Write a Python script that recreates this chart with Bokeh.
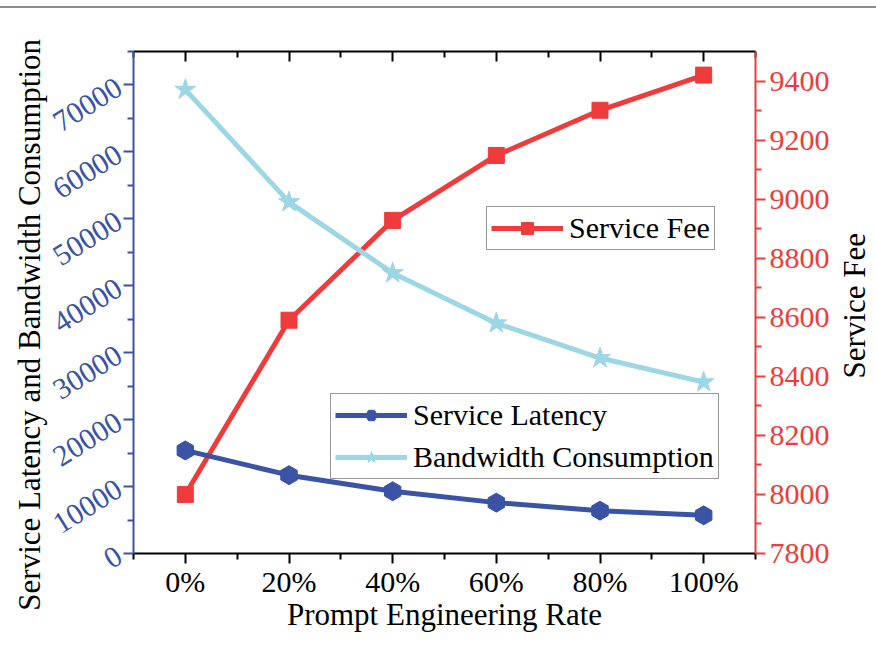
import numpy as np
from bokeh.plotting import figure
from bokeh.models import (Range1d, LinearAxis, FixedTicker, Legend, LegendItem, Div)
from bokeh.layouts import column, row
from bokeh.embed import file_html
from bokeh.resources import INLINE

# ---- data ----
rates = [0, 20, 40, 60, 80, 100]
rate_labels = ["0%", "20%", "40%", "60%", "80%", "100%"]
service_latency = [15400, 11700, 9300, 7600, 6400, 5700]
bandwidth = [69300, 52500, 41900, 34400, 29200, 25600]
service_fee = [8000, 8590, 8928, 9148, 9301, 9420]

left_ticks = [0, 10000, 20000, 30000, 40000, 50000, 60000, 70000]
right_ticks = [7800, 8000, 8200, 8400, 8600, 8800, 9000, 9200, 9400]

x_title = "Prompt Engineering Rate"
left_title = "Service Latency and Bandwidth Consumption"
right_title = "Service Fee"

RED = "#EE3B3B"
BLUE = "#3A53A4"
LIGHT = "#9DD6E4"
FONT = "Liberation Serif"
FS = "30px"
TFS = "31px"

top_rule = Div(text="", width=876, height=8,
               styles={"border-bottom": "2px solid #8c8c8c", "box-sizing": "border-box",
                       "margin": "0", "padding": "0"})

p = figure(width=800, height=637, output_backend="svg", toolbar_location=None,
           x_range=Range1d(-10, 110), y_range=Range1d(0, 75000),
           min_border_left=95, min_border_right=83, min_border_top=43,
           min_border_bottom=92)
p.xgrid.visible = False
p.ygrid.visible = False
p.outline_line_color = None
p.background_fill_color = "white"
p.border_fill_color = None

p.extra_y_ranges = {"fee": Range1d(7800, 9500)}

# bottom axis
xa = p.xaxis[0]
xa.ticker = FixedTicker(ticks=rates, minor_ticks=[-10, 10, 30, 50, 70, 90, 110])
xa.major_label_overrides = {r: l for r, l in zip(rates, rate_labels)}
xa.axis_label = x_title
xa.axis_line_color = "black"
xa.axis_line_width = 2
xa.major_tick_line_color = "black"
xa.minor_tick_line_color = "black"
xa.major_tick_line_width = 2
xa.minor_tick_line_width = 2
xa.major_tick_in = 0
xa.major_tick_out = 10
xa.minor_tick_in = 0
xa.minor_tick_out = 6
xa.major_label_text_font = FONT
xa.major_label_text_font_size = FS
xa.major_label_text_color = "black"
xa.axis_label_text_font = FONT
xa.axis_label_text_font_size = TFS
xa.axis_label_text_font_style = "normal"
xa.axis_label_text_color = "black"
xa.major_label_standoff = 1
xa.axis_label_standoff = -4

# top axis (no labels, ticks inward)
ta = LinearAxis(ticker=FixedTicker(ticks=rates, minor_ticks=[-10, 10, 30, 50, 70, 90, 110]),
                major_label_text_font_size="0px", axis_line_width=2,
                major_tick_in=10, major_tick_out=0, minor_tick_in=6, minor_tick_out=0,
                major_tick_line_width=2, minor_tick_line_width=2)
ta.major_label_text_alpha = 0
p.add_layout(ta, "above")

# left axis (title drawn beside the figure)
ya = p.yaxis[0]
ya.ticker = FixedTicker(ticks=left_ticks, minor_ticks=list(range(5000, 75001, 10000)))
ya.axis_line_color = BLUE
ya.axis_line_width = 2
ya.major_tick_line_color = BLUE
ya.minor_tick_line_color = BLUE
ya.major_tick_line_width = 2
ya.minor_tick_line_width = 2
ya.major_tick_in = 0
ya.major_tick_out = 10
ya.minor_tick_in = 0
ya.minor_tick_out = 6
ya.major_label_text_font = FONT
ya.major_label_text_font_size = FS
ya.major_label_text_color = BLUE
ya.major_label_orientation = 0.56
ya.major_label_standoff = 4

# right axis (title drawn beside the figure so it reads bottom-to-top)
ra = LinearAxis(y_range_name="fee",
                ticker=FixedTicker(ticks=right_ticks, minor_ticks=list(range(7900, 9500, 200))))
ra.axis_line_color = RED
ra.axis_line_width = 2
ra.major_tick_line_color = RED
ra.minor_tick_line_color = RED
ra.major_tick_line_width = 2
ra.minor_tick_line_width = 2
ra.major_tick_in = 0
ra.major_tick_out = 10
ra.minor_tick_in = 0
ra.minor_tick_out = 6
ra.major_label_text_font = FONT
ra.major_label_text_font_size = FS
ra.major_label_text_color = RED
ra.major_label_standoff = 4
p.add_layout(ra, "right")


def vertical_title(text, box_w, box_h, div_w):
    return Div(
        text=(f'<div style="height:{box_h}px;width:{box_w}px;display:flex;align-items:center;'
              'justify-content:center;overflow:visible;">'
              '<span style="writing-mode:vertical-rl;transform:rotate(180deg);'
              'font-family:\'Liberation Serif\';font-size:31px;color:black;white-space:nowrap;">'
              + text + '</span></div>'),
        width=div_w, height=637, styles={"margin": "0", "padding": "0", "overflow": "visible"})


left_div = vertical_title(left_title, 60, 634, 38)
right_div = vertical_title(right_title, 34, 596, 38)

# series
l_fee = p.line(rates, service_fee, y_range_name="fee", line_color=RED, line_width=5)
s_fee = p.scatter(rates, service_fee, y_range_name="fee", marker="square", size=16,
                  fill_color=RED, line_color=RED)
l_bw = p.line(rates, bandwidth, line_color=LIGHT, line_width=5)
s_bw = p.scatter(rates, bandwidth, marker="star", size=22, fill_color=LIGHT, line_color=LIGHT)
l_lat = p.line(rates, service_latency, line_color=BLUE, line_width=5)
s_lat = p.scatter(rates, service_latency, marker="hex", size=19, angle=np.pi / 2,
                  fill_color=BLUE, line_color=BLUE)

def style_legend(lg):
    lg.label_text_font = FONT
    lg.label_text_font_size = FS
    lg.label_text_color = "black"
    lg.glyph_width = 72
    lg.glyph_height = 30
    lg.label_height = 30
    lg.label_standoff = 6
    lg.spacing = 8
    lg.padding = 4
    lg.margin = 0
    lg.border_line_color = "#333333"
    lg.border_line_width = 1
    lg.background_fill_color = "white"
    lg.background_fill_alpha = 1

leg1 = Legend(items=[LegendItem(label="Service Fee", renderers=[l_fee, s_fee])],
              location=(353, 303))
style_legend(leg1)
leg2 = Legend(items=[LegendItem(label="Service Latency", renderers=[l_lat, s_lat]),
                     LegendItem(label="Bandwidth Consumption", renderers=[l_bw, s_bw])],
              location=(197, 74))
style_legend(leg2)
p.add_layout(leg1, "center")
p.add_layout(leg2, "center")

layout = column(top_rule, row(left_div, p, right_div, spacing=0), spacing=0)
open("out.html", "w").write(file_html(layout, INLINE))
